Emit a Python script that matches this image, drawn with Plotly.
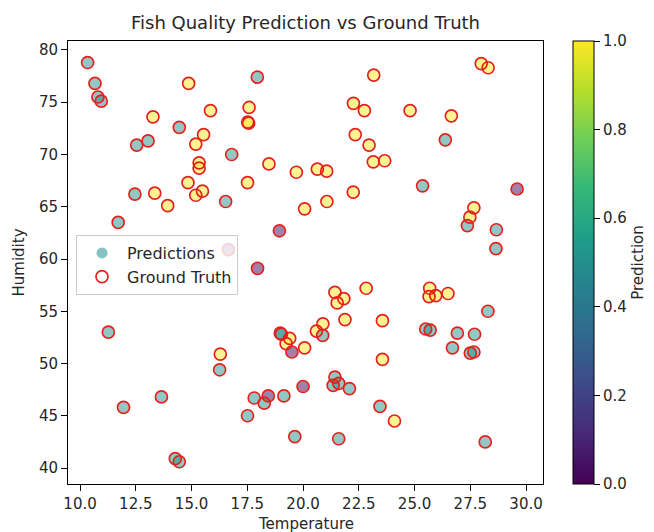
import plotly.graph_objects as go

temperature = [10.34, 10.67, 10.8, 10.95, 14.87, 13.27, 15.85, 17.58, 17.52, 17.56,
               14.45, 15.54, 15.19, 12.54, 13.05, 16.8, 15.34, 15.34, 14.84, 17.51,
               17.95, 23.17, 27.99, 28.3, 22.26, 22.75, 24.8, 26.65, 22.34, 22.96,
               26.38, 18.47, 19.7, 20.64, 21.06, 23.15, 23.66, 22.25, 25.36, 29.6,
               12.46, 13.35, 15.19, 15.49, 13.93, 16.53, 11.71, 16.65, 17.96, 11.27,
               20.07, 21.07, 27.66, 27.48, 27.37, 28.67, 28.65, 18.94, 21.43, 21.83,
               21.53, 22.83, 25.68, 25.65, 25.95, 26.5, 28.29, 20.89, 20.6, 21.88,
               23.56, 25.5, 25.7, 26.92, 27.69, 19.03, 18.98, 19.4, 19.24, 19.5,
               20.07, 20.88, 23.56, 26.7, 27.5, 27.66, 21.43, 21.35, 21.6, 22.08,
               20.0, 18.44, 18.26, 19.14, 23.45, 24.1, 19.63, 21.6, 28.17, 16.29,
               16.26, 17.81, 17.51, 13.65, 11.95, 14.27, 14.45]
humidity = [78.8, 76.8, 75.5, 75.1, 76.8, 73.6, 74.2, 74.5, 73.1, 73.0,
            72.6, 71.9, 71.0, 70.9, 71.3, 70.0, 69.2, 68.7, 67.3, 67.3,
            77.4, 77.6, 78.7, 78.3, 74.9, 74.2, 74.2, 73.7, 71.9, 70.9,
            71.4, 69.1, 68.3, 68.6, 68.4, 69.3, 69.4, 66.4, 67.0, 66.7,
            66.2, 66.3, 66.1, 66.5, 65.1, 65.5, 63.5, 60.9, 59.1, 53.0,
            64.8, 65.5, 64.9, 64.0, 63.2, 62.8, 61.0, 62.7, 56.8, 56.2,
            55.8, 57.2, 57.2, 56.4, 56.5, 56.7, 55.0, 53.8, 53.1, 54.2,
            54.1, 53.3, 53.2, 52.9, 52.8, 52.8, 52.9, 52.4, 51.9, 51.1,
            51.5, 52.7, 50.4, 51.5, 51.0, 51.1, 48.7, 47.9, 48.1, 47.6,
            47.8, 46.9, 46.2, 46.9, 45.9, 44.5, 43.0, 42.8, 42.5, 50.9,
            49.4, 46.7, 45.0, 46.8, 45.8, 40.9, 40.6]
prediction = [0.5, 0.5, 0.5, 0.5, 1, 1, 1, 1, 1, 1,
              0.5, 1, 1, 0.5, 0.5, 0.5, 1, 1, 1, 1,
              0.5, 1, 1, 1, 1, 1, 1, 1, 1, 1,
              0.5, 1, 1, 1, 1, 1, 1, 1, 0.5, 0,
              0.5, 1, 1, 1, 1, 0.5, 0.5, 0, 0, 0.5,
              1, 1, 1, 1, 0.5, 0.5, 0.5, 0, 1, 1,
              1, 1, 1, 1, 1, 1, 0.5, 1, 1, 1,
              1, 0.5, 0.5, 0.5, 0.5, 0.5, 0.5, 1, 1, 0,
              1, 0.5, 1, 0.5, 0.5, 0.5, 0.5, 0.5, 0.5, 0.5,
              0, 0, 0.5, 0.5, 0.5, 1, 0.5, 0.5, 0.5, 1,
              0.5, 0.5, 0.5, 0.5, 0.5, 0.5, 0.5]

x_ticks = [10.0, 12.5, 15.0, 17.5, 20.0, 22.5, 25.0, 27.5, 30.0]
y_ticks = [40, 45, 50, 55, 60, 65, 70, 75, 80]
cbar_ticks = [0.0, 0.2, 0.4, 0.6, 0.8, 1.0]

font = "DejaVu Sans"
TXT = "#262626"
# the page body adds an 8px offset, so the figure is 8px smaller
W, H = 646, 524
L, T = 60, 33
PR, PB = 535, 476
R, B = W - PR, H - PB
PW = PR - L
PH = PB - T

fig = go.Figure()
fig.add_trace(go.Scatter(
    x=temperature, y=humidity, mode="markers", name="Predictions",
    marker=dict(size=11, color=prediction, colorscale="Viridis", cmin=0, cmax=1,
                opacity=0.5, line=dict(width=0),
                showscale=True,
                colorbar=dict(x=(565 - L) / PW, xanchor="left", xpad=0, ypad=0,
                              y=0.5, yanchor="middle",
                              len=1, lenmode="fraction", thickness=21,
                              outlinecolor="black", outlinewidth=1,
                              ticks="outside", ticklen=6, tickcolor="black",
                              tickvals=cbar_ticks, tickformat=".1f",
                              tickfont=dict(family=font, size=15, color=TXT),
                              title=dict(text="Prediction", side="right",
                                         font=dict(family=font, size=15, color=TXT)))),
    showlegend=False,
))
fig.add_trace(go.Scatter(
    x=[None], y=[None], mode="markers", name="Predictions", legendgroup="p",
    marker=dict(size=11, color="#21918c", opacity=0.55),
))
fig.add_trace(go.Scatter(
    x=temperature, y=humidity, mode="markers", name="Ground Truth", legendgroup="g",
    marker=dict(size=12, symbol="circle-open", color="#e4201c", line=dict(width=1.7)),
))

axis_common = dict(showline=True, linecolor="black", linewidth=1, mirror=True,
                   ticks="outside", ticklen=6, tickcolor="black", showgrid=False,
                   zeroline=False, automargin=False,
                   tickfont=dict(family=font, size=15, color=TXT))

fig.update_layout(
    width=W, height=H,
    margin=dict(l=L, r=R, t=T, b=B, autoexpand=False),
    plot_bgcolor="white", paper_bgcolor="white",
    title=dict(text="Fish Quality Prediction vs Ground Truth", x=(L + PW / 2) / W,
               xanchor="center", yref="container", y=1 - 14.5 / H, yanchor="middle",
               font=dict(family=font, size=18, color=TXT)),
    xaxis=dict(range=[9.46, 30.76], tickvals=x_ticks, tickformat=".1f", **axis_common),
    yaxis=dict(range=[38.47, 80.86], tickvals=y_ticks, **axis_common),
    legend=dict(x=(68 - L) / PW, xanchor="left", y=(PB - 227) / PH, yanchor="top",
                bgcolor="rgba(255,255,255,0.8)", bordercolor="#cccccc", borderwidth=1,
                font=dict(family=font, size=16, color=TXT),
                itemwidth=40, itemsizing="trace",
                traceorder="grouped", tracegroupgap=0),
    annotations=[
        dict(text="Temperature", xref="paper", yref="paper", x=0.5, y=-(516 - PB) / PH,
             xanchor="center", yanchor="middle", showarrow=False,
             font=dict(family=font, size=15, color=TXT)),
        dict(text="Humidity", xref="paper", yref="paper", x=-(L - 10) / PW, y=0.5,
             xanchor="center", yanchor="middle", textangle=-90, showarrow=False,
             font=dict(family=font, size=15, color=TXT)),
    ],
)

fig.write_html("out.html")
